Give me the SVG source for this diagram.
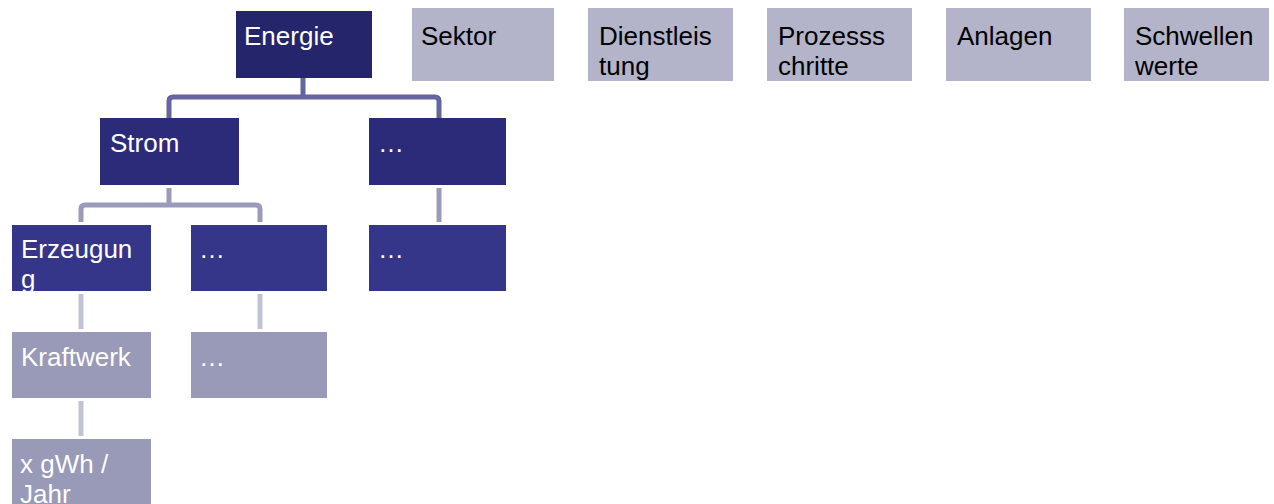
<svg xmlns="http://www.w3.org/2000/svg" width="1274" height="504" viewBox="0 0 1274 504">
  <style>
    text { font-family: "Liberation Sans", Arial, sans-serif; font-size: 26px; }
    .lbl-light { fill: #ffffff; }
    .lbl-dark { fill: #000000; }
    .lvl0 { fill: #25256b; }
    .lvl1 { fill: #2b2b7a; }
    .lvl2 { fill: #35358a; }
    .lvl3 { fill: #9999b8; }
    .cat { fill: #b3b3c9; }
    .conn { fill: none; stroke-width: 5; stroke-linejoin: round; }
    .c0 { stroke: #6464a0; }
    .c1 { stroke: #9a9abb; }
    .c2 { stroke: #c2c2d6; }
  </style>
  <defs>
    <clipPath id="clip-erzeugung"><rect x="12" y="225" width="139" height="66"/></clipPath>
  </defs>

  <!-- tree connectors -->
  <g id="connectors">
    <path class="conn c0" d="M303,78 V97"/>
    <path class="conn c0" d="M169,118 V101 Q169,97 173,97 H435 Q439,97 439,101 V118"/>
    <path class="conn c1" d="M169,188 V205"/>
    <path class="conn c1" d="M81,222 V209 Q81,205 85,205 H256 Q260,205 260,209 V222"/>
    <path class="conn c1" d="M439,188 V222"/>
    <path class="conn c2" d="M81,294 V329"/>
    <path class="conn c2" d="M260,294 V329"/>
    <path class="conn c2" d="M81,401 V436"/>
  </g>

  <!-- hierarchy -->
  <g id="energie">
    <rect class="lvl0" x="236" y="11" width="136" height="67"/>
    <text class="lbl-light" x="244" y="45">Energie</text>
  </g>
  <g id="strom">
    <rect class="lvl1" x="100" y="118" width="139" height="67"/>
    <text class="lbl-light" x="110" y="152">Strom</text>
  </g>
  <g id="energie-weitere">
    <rect class="lvl1" x="369" y="118" width="137" height="67"/>
    <text class="lbl-light" x="378" y="152">…</text>
  </g>
  <g id="erzeugung">
    <rect class="lvl2" x="12" y="225" width="139" height="66"/>
    <g clip-path="url(#clip-erzeugung)">
      <text class="lbl-light" x="21" y="258">Erzeugun</text>
      <text class="lbl-light" x="21" y="288">g</text>
    </g>
  </g>
  <g id="strom-weitere">
    <rect class="lvl2" x="191" y="225" width="136" height="66"/>
    <text class="lbl-light" x="199" y="258">…</text>
  </g>
  <g id="energie-weitere-unten">
    <rect class="lvl2" x="369" y="225" width="137" height="66"/>
    <text class="lbl-light" x="378" y="258">…</text>
  </g>
  <g id="kraftwerk">
    <rect class="lvl3" x="12" y="332" width="139" height="66"/>
    <text class="lbl-light" x="21" y="366">Kraftwerk</text>
  </g>
  <g id="strom-weitere-unten">
    <rect class="lvl3" x="191" y="332" width="136" height="66"/>
    <text class="lbl-light" x="199" y="366">…</text>
  </g>
  <g id="menge">
    <rect class="lvl3" x="12" y="439" width="139" height="70"/>
    <text class="lbl-light" x="20" y="473">x gWh /</text>
    <text class="lbl-light" x="20" y="503">Jahr</text>
  </g>

  <!-- category headers -->
  <g id="sektor">
    <rect class="cat" x="412" y="8" width="142" height="73"/>
    <text class="lbl-dark" x="421" y="45">Sektor</text>
  </g>
  <g id="dienstleistung">
    <rect class="cat" x="588" y="8" width="145" height="73"/>
    <text class="lbl-dark" x="599" y="45">Dienstleis</text>
    <text class="lbl-dark" x="599" y="75">tung</text>
  </g>
  <g id="prozessschritte">
    <rect class="cat" x="767" y="8" width="145" height="73"/>
    <text class="lbl-dark" x="778" y="45">Prozesss</text>
    <text class="lbl-dark" x="778" y="75">chritte</text>
  </g>
  <g id="anlagen">
    <rect class="cat" x="946" y="8" width="145" height="73"/>
    <text class="lbl-dark" x="957" y="45">Anlagen</text>
  </g>
  <g id="schwellenwerte">
    <rect class="cat" x="1124" y="8" width="145" height="73"/>
    <text class="lbl-dark" x="1135" y="45">Schwellen</text>
    <text class="lbl-dark" x="1135" y="75">werte</text>
  </g>
</svg>
